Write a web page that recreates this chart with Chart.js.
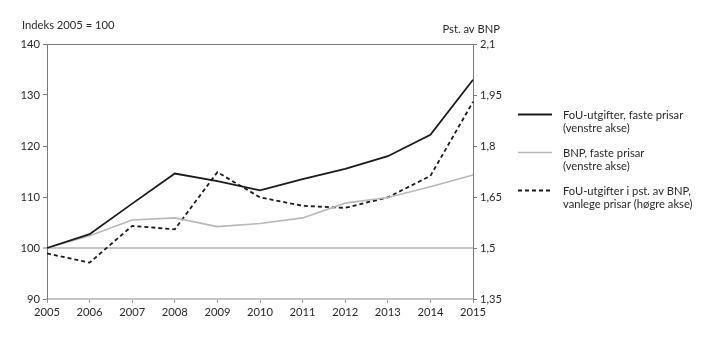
<!DOCTYPE html>
<html>
<head>
<meta charset="utf-8">
<script src="https://cdn.jsdelivr.net/npm/chart.js@4.4.1/dist/chart.umd.min.js"></script>
<style>
  html, body { margin: 0; padding: 0; background: #fff; }
</style>
</head>
<body>
<canvas id="myChart" width="719" height="341"></canvas>
<script>
const years = ['2005', '2006', '2007', '2008', '2009', '2010', '2011', '2012', '2013', '2014', '2015'];
const fouFaste = [100, 102.7, 108.7, 114.6, 113.1, 111.3, 113.5, 115.5, 118.0, 122.2, 133.0];
const bnpFaste = [100, 102.4, 105.5, 105.9, 104.2, 104.8, 105.9, 108.8, 109.9, 112.0, 114.3];
const fouPstBnp = [1.484, 1.457, 1.565, 1.555, 1.723, 1.649, 1.624, 1.618, 1.649, 1.712, 1.93];

const legendLabels = [
    ['FoU-utgifter, faste prisar', '(venstre akse)'],
    ['BNP, faste prisar', '(venstre akse)'],
    ['FoU-utgifter i pst. av BNP,', 'vanlege prisar (høgre akse)']
];
const leftTitle = 'Indeks 2005 = 100';
const rightTitle = 'Pst. av BNP';

const FONT = 'Lato, "Open Sans", sans-serif';
const FSIZE = 11.2;
const TEXT = '#2b2829';
const AXIS = '#7a7a7a';
const LIGHT = '#c6c6c6';

// legend + axis titles drawn by hand
const extras = {
    id: 'extras',
    afterDraw(chart) {
        const ctx = chart.ctx;
        ctx.save();
        ctx.font = FSIZE + 'px ' + FONT;
        ctx.fillStyle = TEXT;
        ctx.textBaseline = 'middle';
        ctx.textAlign = 'left';
        ctx.fillText(leftTitle, 22, 25);
        ctx.textAlign = 'right';
        ctx.fillText(rightTitle, 500, 29);

        const rows = [114, 152, 190];
        chart.data.datasets.forEach((ds, i) => {
            const y = rows[i];
            ctx.beginPath();
            ctx.strokeStyle = ds.borderColor;
            ctx.lineWidth = ds.borderWidth;
            ctx.setLineDash(ds.borderDash || []);
            ctx.moveTo(518, y + 0.5);
            ctx.lineTo(552, y + 0.5);
            ctx.stroke();
            ctx.setLineDash([]);
            ctx.textAlign = 'left';
            ctx.fillStyle = TEXT;
            legendLabels[i].forEach((t, j) => ctx.fillText(t, 563, y + 1 + j * 13.5));
        });
        ctx.restore();
    }
};

const ctx = document.getElementById('myChart').getContext('2d');
const myChart = new Chart(ctx, {
    type: 'line',
    data: {
        labels: years,
        datasets: [{
            label: 'FoU-utgifter, faste prisar (venstre akse)',
            data: fouFaste,
            yAxisID: 'y',
            borderColor: '#1a1a1a',
            borderWidth: 1.8,
            pointRadius: 0,
            tension: 0
        }, {
            label: 'BNP, faste prisar (venstre akse)',
            data: bnpFaste,
            yAxisID: 'y',
            borderColor: '#b8b8b8',
            borderWidth: 1.6,
            pointRadius: 0,
            tension: 0
        }, {
            label: 'FoU-utgifter i pst. av BNP, vanlege prisar (høgre akse)',
            data: fouPstBnp,
            yAxisID: 'y1',
            borderColor: '#1a1a1a',
            borderWidth: 1.8,
            borderDash: [4, 3],
            pointRadius: 0,
            tension: 0
        }]
    },
    options: {
        responsive: false,
        animation: false,
        devicePixelRatio: 1,
        layout: { padding: { top: 44, left: 0, right: 0, bottom: 0 } },
        plugins: {
            legend: { display: false },
            tooltip: { enabled: false }
        },
        scales: {
            x: {
                offset: false,
                border: { color: LIGHT, width: 2 },
                grid: { drawOnChartArea: false, tickLength: 4, tickColor: '#9a9a9a', tickWidth: 1 },
                ticks: { color: TEXT, font: { family: FONT, size: FSIZE }, padding: 3, maxRotation: 0 },
                afterFit: (s) => { s.height = 42; }
            },
            y: {
                position: 'left',
                min: 90,
                max: 140,
                border: { color: AXIS, width: 1 },
                grid: {
                    color: (c) => c.tick && c.tick.value === 100 ? LIGHT : (c.tick && c.tick.value === 140 ? AXIS : 'rgba(0,0,0,0)'),
                    lineWidth: (c) => c.tick && c.tick.value === 100 ? 2 : 1,
                    tickColor: AXIS,
                    tickWidth: 1,
                    tickLength: 4
                },
                ticks: { stepSize: 10, color: TEXT, font: { family: FONT, size: FSIZE }, padding: 3 },
                afterFit: (s) => { s.width = 47; }
            },
            y1: {
                position: 'right',
                min: 1.35,
                max: 2.1,
                border: { color: AXIS, width: 1 },
                grid: { drawOnChartArea: false, tickColor: AXIS, tickWidth: 1, tickLength: 4 },
                ticks: {
                    stepSize: 0.15,
                    color: TEXT,
                    font: { family: FONT, size: FSIZE },
                    padding: 3,
                    callback: (v) => Number(v.toFixed(2)).toString().replace('.', ',')
                },
                afterFit: (s) => { s.width = 246; }
            }
        }
    },
    plugins: [extras]
});
</script>
</body>
</html>
